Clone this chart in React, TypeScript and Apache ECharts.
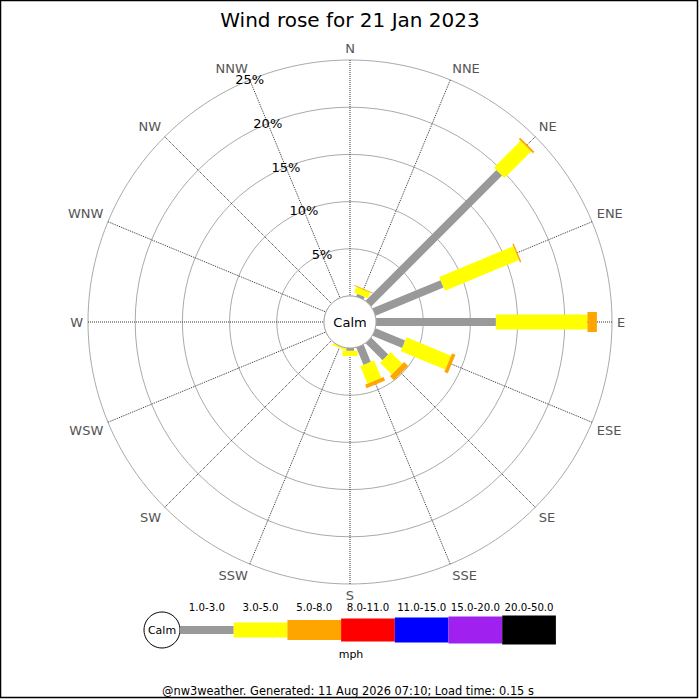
import { useEffect, useRef } from 'react';
import * as echarts from 'echarts';

const directions = ['N', 'NNE', 'NE', 'ENE', 'E', 'ESE', 'SE', 'SSE', 'S', 'SSW', 'SW', 'WSW', 'W', 'WNW', 'NW', 'NNW'];
const directionAngles = [0, 22.5, 45, 67.5, 90, 112.5, 135, 157.5, 180, 202.5, 225, 247.5, 270, 292.5, 315, 337.5];

const speedBins = ['1.0-3.0', '3.0-5.0', '5.0-8.0', '8.0-11.0', '11.0-15.0', '15.0-20.0', '20.0-50.0'];
const binColors = ['#999999', '#ffff00', '#ffa500', '#ff0000', '#0000ff', '#a020f0', '#000000'];
const binWidths = [8, 15, 20, 23, 25, 27, 29];

// % of the day from each direction, one list per speed bin
const freq1to3 = [0, 0.3, 19.6, 7.8, 12.7, 3.4, 2.55, 2.0, 0.3, 0.02, 0, 0, 0, 0, 0, 0];
const freq3to5 = [0, 0.65, 4.0, 8.5, 9.7, 5.1, 1.75, 2.0, 0.55, 0.2, 0, 0, 0, 0, 0, 0];
const freq5to8 = [0, 0.1, 0.2, 0.15, 1.0, 0.4, 0.6, 0.4, 0, 0, 0, 0, 0, 0, 0, 0];
const freq8to11 = [0, 0, 0, 0, 0, 0, 0, 0, 0, 0, 0, 0, 0, 0, 0, 0];
const freq11to15 = [0, 0, 0, 0, 0, 0, 0, 0, 0, 0, 0, 0, 0, 0, 0, 0];
const freq15to20 = [0, 0, 0, 0, 0, 0, 0, 0, 0, 0, 0, 0, 0, 0, 0, 0];
const freq20to50 = [0, 0, 0, 0, 0, 0, 0, 0, 0, 0, 0, 0, 0, 0, 0, 0];
const binFreqs = [freq1to3, freq3to5, freq5to8, freq8to11, freq11to15, freq15to20, freq20to50];

const title = 'Wind rose for 21 Jan 2023';
const unitLabel = 'mph';
const footer = '@nw3weather. Generated: 11 Aug 2026 07:10; Load time: 0.15 s';

const FONT = 'DejaVu Sans';

export default function App() {
  const chartRef = useRef<HTMLDivElement>(null);

  useEffect(() => {
    if (!chartRef.current) return;
    const chart = echarts.init(chartRef.current, undefined, { renderer: 'svg' });

    // stack the bins outward per direction
    const cum = directions.map(() => 0);
    const series = binFreqs.map((freqs, b) => {
      const data = directions.map((_, i) => {
        const r0 = cum[i];
        cum[i] += freqs[i];
        return [directionAngles[i], r0, cum[i]];
      });
      const w = binWidths[b];
      return {
        type: 'custom',
        name: speedBins[b],
        coordinateSystem: 'polar',
        encode: { angle: 0, radius: [1, 2] },
        data,
        renderItem: (_params: any, api: any) => {
          const ang = api.value(0);
          const r0 = api.value(1);
          const r1 = api.value(2);
          if (!(r1 > r0)) return null;
          const a = api.coord([r0, ang]);
          const p = api.coord([r1, ang]);
          const dx = p[0] - a[0];
          const dy = p[1] - a[1];
          const len = Math.hypot(dx, dy) || 1;
          const nx = (-dy / len) * (w / 2);
          const ny = (dx / len) * (w / 2);
          return {
            type: 'polygon',
            shape: {
              points: [
                [a[0] + nx, a[1] + ny],
                [p[0] + nx, p[1] + ny],
                [p[0] - nx, p[1] - ny],
                [a[0] - nx, a[1] - ny],
              ],
            },
            style: { fill: binColors[b] },
          };
        },
      };
    });

    // legend strip along the bottom
    const legendX = 180;
    const segW = 53.7;
    const legendY = 630;
    const legend: any[] = [
      {
        type: 'circle',
        shape: { cx: 162, cy: legendY, r: 18 },
        style: { fill: '#fff', stroke: '#000', lineWidth: 1 },
      },
      {
        type: 'text',
        x: 162,
        y: legendY,
        style: { text: 'Calm', fontSize: 11, fontFamily: FONT, fill: '#000', align: 'center', verticalAlign: 'middle' },
      },
    ];
    speedBins.forEach((label, i) => {
      legend.push({
        type: 'rect',
        shape: { x: legendX + i * segW, y: legendY - binWidths[i] / 2, width: segW, height: binWidths[i] },
        style: { fill: binColors[i] },
      });
      legend.push({
        type: 'text',
        x: legendX + i * segW + segW / 2,
        y: 607,
        style: { text: label, fontSize: 10.2, fontFamily: FONT, fill: '#000', align: 'center', verticalAlign: 'middle' },
      });
    });

    chart.setOption({
      animation: false,
      backgroundColor: '#fff',
      textStyle: { fontFamily: FONT },
      title: {
        text: title,
        left: 'center',
        top: 5,
        textStyle: { fontSize: 20, fontWeight: 'normal', color: '#000', fontFamily: FONT },
      },
      polar: { center: [350, 322], radius: [26, 262] },
      angleAxis: {
        type: 'value',
        min: -22.5,
        max: 337.5,
        interval: 22.5,
        startAngle: 112.5,
        clockwise: true,
        axisLine: { show: false },
        axisTick: { show: false },
        axisLabel: {
          margin: 5,
          fontSize: 13,
          color: '#555',
          fontFamily: FONT,
          formatter: (v: number) => directions[Math.round((((v % 360) + 360) % 360) / 22.5) % 16],
        },
        splitLine: { show: true, lineStyle: { color: '#333', width: 1, type: 'dotted' } },
      },
      radiusAxis: {
        type: 'value',
        min: 0,
        max: 25,
        interval: 5,
        axisLine: { show: false },
        axisTick: { show: false },
        axisLabel: {
          margin: 0,
          fontSize: 13,
          color: '#000',
          fontFamily: FONT,
          align: 'center',
          verticalAlign: 'middle',
          formatter: (v: number) => (v === 0 ? '' : `${v}%`),
        },
        splitLine: { show: true, lineStyle: { color: '#aaa', width: 1 } },
      },
      series,
      graphic: [
        {
          type: 'circle',
          z: 10,
          shape: { cx: 350, cy: 322, r: 26 },
          style: { fill: '#fff', stroke: '#aaa', lineWidth: 1 },
        },
        {
          type: 'text',
          z: 11,
          x: 350,
          y: 322,
          style: { text: 'Calm', fontSize: 13, fontFamily: FONT, fill: '#000', align: 'center', verticalAlign: 'middle' },
        },
        ...legend,
        {
          type: 'text',
          x: 351,
          y: 654,
          style: { text: unitLabel, fontSize: 11, fontFamily: FONT, fill: '#000', align: 'center', verticalAlign: 'middle' },
        },
        {
          type: 'text',
          x: 348,
          y: 691,
          style: { text: footer, fontSize: 11.4, fontFamily: FONT, fill: '#000', align: 'center', verticalAlign: 'middle' },
        },
        {
          type: 'rect',
          shape: { x: 0.5, y: 0.5, width: 697, height: 697 },
          style: { fill: 'none', stroke: '#000', lineWidth: 1.5 },
        },
      ],
    });

    return () => chart.dispose();
  }, []);

  return (
    <div
      ref={chartRef}
      style={{ position: 'absolute', left: 0, top: 0, width: 700, height: 700 }}
    />
  );
}
